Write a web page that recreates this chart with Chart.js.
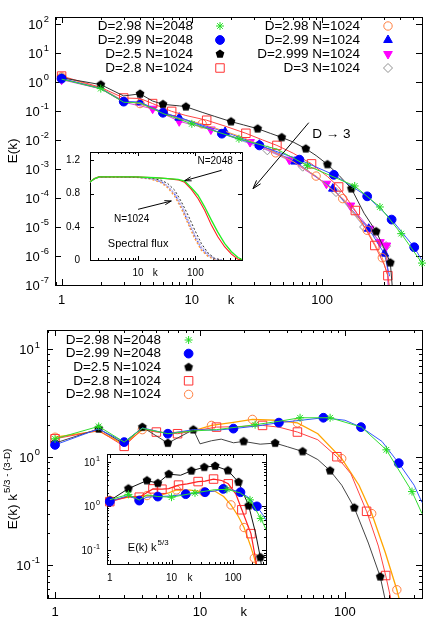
<!DOCTYPE html>
<html>
<head>
<meta charset="utf-8">
<script src="https://cdn.jsdelivr.net/npm/chart.js@4.4.1/dist/chart.umd.min.js"></script>
<style>
  html, body { margin: 0; padding: 0; background: #fff; }
  #wrap { position: relative; width: 447px; height: 626px; overflow: hidden; }
  #wrap canvas { position: absolute; left: 0; top: 0; }
</style>
</head>
<body>
<div id="wrap">
  <canvas id="topMain" width="447" height="626"></canvas>
  <canvas id="topInset" width="447" height="626"></canvas>
  <canvas id="botMain" width="447" height="626"></canvas>
  <canvas id="botInset" width="447" height="626"></canvas>
</div>
<script>
// ====== legend text / ticks ======
var topLabels = ['D=2.98 N=2048', 'D=2.99 N=2048', 'D=2.5 N=1024', 'D=2.8 N=1024',
                 'D=2.98 N=1024', 'D=2.99 N=1024', 'D=2.999 N=1024', 'D=3 N=1024'];
var botLabels = ['D=2.98 N=2048', 'D=2.99 N=2048', 'D=2.5 N=1024', 'D=2.8 N=1024', 'D=2.98 N=1024'];
var xTickMain = [1, 10, 100];
var xTickFlux = [10, 100];
var yExpTop = [2, 1, 0, -1, -2, -3, -4, -5, -6, -7];
var yExpBot = [1, 0, -1];
var yTickFlux = [0, 0.4, 0.8, 1.2];

// ====== top panel : E(k)  (k, E, k with marker) ======
var kT_g = [1, 2, 3, 4, 6, 10, 23, 45, 77, 178, 278, 405, 585];
var eT_g = [1.25, 0.59, 0.2, 0.19, 0.082, 0.036, 0.011, 0.0048, 0.0013, 2.6e-4, 4.9e-5, 5.9e-6, 5.7e-7];
var mT_g = [2, 10, 23, 77, 178, 278, 405, 585];

var kT_b = [1, 2, 3, 4, 6, 9, 17, 33, 67, 123, 222, 342, 510, 585];
var eT_b = [1.3, 0.6, 0.21, 0.2, 0.087, 0.05, 0.0165, 0.0065, 0.0021, 6.3e-4, 1.14e-4, 1.8e-5, 2e-6, 7e-7];
var mT_b = [1, 3, 6, 17, 33, 67, 123, 222, 342, 510];

var kT_k = [1, 2, 3, 4, 5, 6, 8, 9, 12, 15, 20, 25, 32, 40, 49, 60, 75, 90, 110, 135, 168, 210, 260, 300, 334, 345];
var eT_k = [1.4, 0.81, 0.33, 0.39, 0.22, 0.17, 0.15, 0.14, 0.09, 0.065, 0.043, 0.033, 0.0245, 0.017, 0.0123,
            0.0085, 0.005, 0.0029, 0.00144, 6e-4, 2.1e-4, 3e-5, 7e-6, 1.8e-6, 5.9e-7, 1e-7];
var mT_k = [1, 2, 4, 6, 9, 20, 32, 49, 75, 110, 168, 260, 334];

var kT_r = [1, 2, 3, 4, 5, 7, 9, 13, 18, 26, 35, 45, 60, 83, 110, 134, 180, 254, 300, 320, 335];
var eT_r = [1.6, 0.65, 0.28, 0.27, 0.18, 0.097, 0.07, 0.048, 0.03, 0.017, 0.01, 0.0065, 0.0035, 1.5e-3,
            5.5e-4, 2.4e-4, 3.7e-5, 2.3e-6, 5e-7, 2.1e-7, 5e-8];
var mT_r = [1, 3, 5, 7, 13, 26, 45, 83, 134, 180, 254, 320];

var kT_o = [1, 2, 3, 4, 6, 8, 12, 18, 25, 44, 60, 90, 144, 222, 290, 320];
var eT_o = [1.5, 0.62, 0.22, 0.18, 0.09, 0.055, 0.036, 0.02, 0.012, 3.6e-3, 1.8e-3, 5.7e-4, 9.5e-5, 7.7e-6, 8.7e-7, 2e-7];
var mT_o = [1, 4, 12, 44, 90, 144, 222, 290];

var kT_t = [1, 2, 3, 4, 6, 8, 12, 18, 33, 62, 121, 228, 301, 330];
var eT_t = [1.3, 0.6, 0.21, 0.2, 0.09, 0.059, 0.033, 0.019, 0.0069, 1.8e-3, 2.1e-4, 8.7e-6, 1.2e-6, 2e-7];
var mT_t = [4, 8, 18, 33, 62, 121, 228, 301];

var kT_m = [1, 2, 3, 5, 8, 14, 28, 56, 108, 165, 232, 278, 312, 328];
var eT_m = [1.2, 0.58, 0.2, 0.12, 0.044, 0.023, 8.5e-3, 2.1e-3, 3.1e-4, 5.5e-5, 8.7e-6, 3e-6, 2.3e-6, 1e-8];
var mT_m = [1, 5, 8, 14, 28, 56, 108, 165, 232, 278, 312];

var kT_d = [1, 2, 3, 4, 6, 10, 20, 38, 71, 128, 210, 310, 333];
var eT_d = [1.3, 0.58, 0.21, 0.19, 0.085, 0.04, 0.013, 4.4e-3, 1.2e-3, 1.6e-4, 1e-5, 2.2e-6, 1e-8];
var mT_d = [38, 71, 128, 210, 310];

// ====== top inset : spectral flux ======
var kF_hi = [1.45, 1.75, 2.1, 5, 9, 20, 33, 50, 65, 85, 111, 145, 190, 246, 323, 425, 553, 650];
var fF_g  = [0.94, 0.98, 1.0, 1.0, 1.0, 0.99, 0.98, 0.97, 0.95, 0.87, 0.78, 0.64, 0.48, 0.335, 0.2, 0.1, 0.03, 0.005];
var fF_r  = [0.94, 0.98, 1.0, 1.0, 1.0, 0.99, 0.98, 0.965, 0.935, 0.85, 0.74, 0.6, 0.42, 0.28, 0.16, 0.07, 0.01, 0.0];
var kF_lo = [1.45, 1.75, 2.1, 5, 10, 17, 25.5, 33, 43.6, 57, 74.5, 97.5, 127, 166, 217, 284];
var fF_b  = [0.94, 0.98, 1.0, 1.0, 0.995, 0.98, 0.94, 0.88, 0.79, 0.64, 0.46, 0.28, 0.14, 0.055, 0.01, 0.0];
var fF_o  = [0.94, 0.98, 1.0, 1.0, 0.995, 0.975, 0.93, 0.87, 0.77, 0.62, 0.44, 0.26, 0.12, 0.045, 0.008, 0.0];
var fF_d  = [0.94, 0.98, 1.0, 1.0, 0.995, 0.98, 0.945, 0.89, 0.8, 0.66, 0.48, 0.3, 0.16, 0.065, 0.015, 0.0];
var fF_k  = [0.94, 0.98, 1.0, 1.0, 0.995, 0.985, 0.96, 0.92, 0.84, 0.7, 0.54, 0.36, 0.2, 0.085, 0.02, 0.0];

// ====== bottom panel : E(k) k^(5/3-(3-D)) ======
var kB_g = [1, 2, 3, 4, 6, 9, 13, 18, 24, 35, 49, 79, 130, 193, 290, 340];
var eB_g = [1.48, 1.93, 1.38, 1.85, 1.65, 1.75, 1.8, 1.9, 2.0, 2.15, 2.32, 2.32, 1.9, 1.17, 0.48, 0.3];
var mB_g = [1, 2, 24, 49, 79, 193, 290];

var kB_b = [1, 2, 3, 4, 6, 9, 13, 17, 25, 35, 50, 71, 100, 129, 180, 235, 300, 340];
var eB_b = [1.3, 1.83, 1.38, 1.87, 1.65, 1.8, 1.78, 1.84, 1.95, 2.09, 2.2, 2.32, 2.2, 1.9, 1.4, 0.88, 0.55, 0.38];
var mB_b = [1, 3, 6, 17, 35, 71, 129, 235];

var kB_k = [1, 2, 3, 4, 6, 9, 10, 12, 14, 17, 20, 26, 33, 40, 51, 65, 79, 95, 116, 145, 175, 195];
var eB_k = [1.35, 1.83, 1.33, 1.9, 1.35, 1.8, 1.33, 1.42, 1.47, 1.36, 1.4, 1.32, 1.35, 1.25, 1.13, 0.95,
            0.75, 0.55, 0.34, 0.16, 0.078, 0.04];
var mB_k = [1, 2, 4, 6, 9, 20, 33, 51, 79, 116, 175];

var kB_r = [1, 2, 3, 4, 5, 7, 9, 13, 18, 27, 35, 47, 65, 88, 110, 141, 170, 191, 210];
var eB_r = [1.48, 1.77, 1.26, 1.83, 1.71, 1.65, 1.75, 1.9, 1.92, 1.97, 1.9, 1.71, 1.45, 1.01, 0.7, 0.315, 0.15, 0.08, 0.045];
var mB_r = [1, 3, 5, 7, 13, 27, 47, 88, 141, 191];

var kB_o = [1, 2, 3, 4, 6, 9, 12, 17, 23, 33, 47, 65, 95, 125, 153, 190, 228, 240];
var eB_o = [1.53, 1.75, 1.31, 1.8, 1.67, 1.75, 1.97, 2.1, 2.24, 2.2, 2.08, 1.65, 0.97, 0.55, 0.3, 0.13, 0.059, 0.045];
var mB_o = [1, 4, 12, 23, 47, 95, 153, 228];

// ====== bottom inset : E(k) k^(5/3) ======
var kI_k = [1, 2, 4, 6, 9, 14, 21, 34, 51, 82, 122, 178, 230, 275, 290];
var eI_k = [1.34, 2.5, 3.8, 3.3, 5.3, 5.0, 6.3, 7.6, 8.1, 6.4, 3.5, 1.03, 0.25, 0.07, 0.04];
var mI_k = [1, 2, 4, 6, 9, 21, 34, 51, 82, 122, 178, 275];

var kI_r = [1, 2, 3, 5, 7, 9, 13, 18, 27, 35, 48, 65, 83, 110, 138, 194, 228, 240];
var eI_r = [1.27, 1.65, 1.6, 2.46, 2.42, 2.5, 3.0, 3.2, 3.6, 3.7, 4.1, 3.8, 3.2, 1.9, 0.83, 0.24, 0.07, 0.045];
var mI_r = [1, 3, 5, 7, 13, 27, 48, 83, 138, 194];

var kI_o = [1, 2, 4, 6, 9, 12, 20, 33, 50, 70, 92, 120, 150, 190, 220, 235];
var eI_o = [1.35, 1.6, 1.74, 1.7, 2.0, 2.33, 2.3, 2.1, 2.2, 1.65, 1.07, 0.6, 0.33, 0.13, 0.067, 0.045];
var mI_o = [1, 4, 12, 33, 92, 150, 220];

var kI_b = [1, 2, 3, 4, 6, 10, 17, 25, 35, 50, 69, 100, 131, 180, 242, 300, 340];
var eI_b = [1.27, 1.75, 1.34, 1.6, 1.65, 1.7, 1.87, 1.95, 2.07, 2.2, 2.46, 2.3, 2.07, 1.55, 0.99, 0.65, 0.49];
var mI_b = [1, 3, 6, 17, 35, 69, 131, 242];

var kI_g = [1, 2, 3, 4, 6, 10, 24, 49, 79, 130, 187, 280, 340];
var eI_g = [1.4, 1.85, 1.38, 1.8, 1.65, 1.6, 2.0, 2.35, 2.4, 2.0, 1.39, 0.53, 0.3];
var mI_g = [2, 10, 24, 79, 187, 280];

// ====== annotations (data coordinates) ======
var arrowD = [[79, 0.0395], [29.5, 2.1e-4]];
var labelD = [84, 0.0156];
var arrow2048 = [[287, 1.08], [65, 0.955]];
var label2048 = [221, 1.19];
var arrow1024 = [[10, 0.61], [38, 0.71]];
var label1024 = [7.7, 0.49];
var labelFlux = [2.97, 0.195];
var labelComp = [1.96, 0.122];

var FONT = '"Liberation Sans", Arial, Helvetica, sans-serif';

// ====== helpers ======
function pentagon(r, color) {
    var s = Math.ceil(2 * r + 2);
    var c = document.createElement('canvas');
    c.width = s; c.height = s;
    var g = c.getContext('2d');
    g.fillStyle = color;
    g.beginPath();
    for (var i = 0; i < 5; i++) {
        var a = -Math.PI / 2 + i * 2 * Math.PI / 5;
        var px = s / 2 + r * Math.cos(a), py = s / 2 + r * Math.sin(a);
        if (i) g.lineTo(px, py); else g.moveTo(px, py);
    }
    g.closePath();
    g.fill();
    return c;
}
var PENTA = pentagon(4.6, '#000');

var ST = {
    g: { color: '#22dd22', line: '#33dd33', shape: 'star', r: 4 },
    b: { color: '#0000ff', fill: '#0000ff', line: '#3355ff', shape: 'circle', r: 4.4 },
    k: { color: '#000', fill: '#000', line: '#444', shape: PENTA, r: 4.6 },
    r: { color: '#ff3333', line: '#ff4444', shape: 'rect', r: 6 },
    o: { color: '#ff7f40', line: '#ffa020', shape: 'circle', r: 4.2 },
    t: { color: '#0000ff', fill: '#0000ff', line: '#3355ff', shape: 'triangle', r: 5 },
    m: { color: '#ff00ff', fill: '#ff00ff', line: '#dd44dd', shape: 'triangle', rot: 180, r: 5 },
    d: { color: '#909090', line: '#a8a0d8', shape: 'rectRot', r: 4.5 }
};

function series(k, e, marks, st, extra) {
    extra = extra || {};
    return {
        data: k.map(function (x, i) { return { x: x, y: e[i] }; }),
        borderColor: extra.line || st.line,
        borderWidth: extra.lw || 1,
        borderDash: extra.dash || [],
        pointStyle: st.shape,
        pointRotation: st.rot || 0,
        pointBackgroundColor: st.fill || 'rgba(0,0,0,0)',
        pointBorderColor: st.color,
        pointBorderWidth: 1,
        pointRadius: function (c) {
            return marks && c.raw && marks.indexOf(c.raw.x) >= 0 ? st.r : 0;
        },
        fill: false,
        tension: 0,
        clip: { left: 6, top: 0, right: 6, bottom: 0 },
        _st: st
    };
}

function txt(ctx, s, x, y, fs, align) {
    ctx.font = fs + 'px ' + FONT;
    ctx.textAlign = align || 'left';
    ctx.textBaseline = 'middle';
    ctx.fillStyle = '#000';
    ctx.fillText(s, x, y);
}

// base text with superscript, aligned as a whole
function supText(ctx, base, sup, x, y, fs, align) {
    var fe = fs * 0.72;
    ctx.font = fs + 'px ' + FONT;
    var wb = ctx.measureText(base).width;
    ctx.font = fe + 'px ' + FONT;
    var we = ctx.measureText(sup).width;
    var w = wb + we + 1;
    var x0 = align === 'right' ? x - w : (align === 'center' ? x - w / 2 : x);
    ctx.fillStyle = '#000';
    ctx.textAlign = 'left';
    ctx.textBaseline = 'middle';
    ctx.font = fs + 'px ' + FONT;
    ctx.fillText(base, x0, y + fs * 0.12);
    ctx.font = fe + 'px ' + FONT;
    ctx.fillText(sup, x0 + wb + 1, y - fs * 0.33);
}

function arrow(ctx, x1, y1, x2, y2, head) {
    ctx.save();
    ctx.strokeStyle = '#000';
    ctx.lineWidth = 1;
    ctx.beginPath();
    ctx.moveTo(x1, y1);
    ctx.lineTo(x2, y2);
    var ang = Math.atan2(y2 - y1, x2 - x1);
    [-1, 1].forEach(function (s) {
        var a2 = ang + Math.PI + s * 0.3;
        ctx.moveTo(x2, y2);
        ctx.lineTo(x2 + head * Math.cos(a2), y2 + head * Math.sin(a2));
    });
    ctx.stroke();
    ctx.restore();
}

function tickList(min, max, isLog, majors) {
    var out = [];
    if (!isLog) {
        majors.forEach(function (v) { out.push({ v: v, major: true }); });
        return out;
    }
    for (var d = Math.floor(Math.log10(min)); d <= Math.ceil(Math.log10(max)); d++) {
        for (var m = 1; m <= 9; m++) {
            var v = m * Math.pow(10, d);
            if (v >= min * 0.9999 && v <= max * 1.0001) out.push({ v: v, major: m === 1 });
        }
    }
    return out;
}

function framePlugin(cfg) {
    return {
        id: 'gpFrame',
        beforeDraw: function (chart) {
            if (!cfg.white) return;
            var a = chart.chartArea, ctx = chart.ctx;
            ctx.save();
            ctx.fillStyle = '#fff';
            ctx.fillRect(a.left, a.top, a.right - a.left, a.bottom - a.top);
            ctx.restore();
        },
        beforeDatasetsDraw: function (chart) {
            var ctx = chart.ctx, a = chart.chartArea, xs = chart.scales.x, ys = chart.scales.y;
            ctx.save();
            ctx.strokeStyle = '#000';
            ctx.lineWidth = 1;
            ctx.beginPath();
            tickList(cfg.x[0], cfg.x[1], true).forEach(function (t) {
                var L = t.major ? cfg.tick : cfg.tick / 2;
                var px = Math.round(xs.getPixelForValue(t.v)) + 0.5;
                ctx.moveTo(px, a.bottom); ctx.lineTo(px, a.bottom - L);
                ctx.moveTo(px, a.top); ctx.lineTo(px, a.top + L);
            });
            tickList(cfg.y[0], cfg.y[1], cfg.yLog, cfg.yMajors).forEach(function (t) {
                if (!t.major && !cfg.yMinor) return;
                var L = t.major ? cfg.tick : cfg.tick / 2;
                var py = Math.round(ys.getPixelForValue(t.v)) + 0.5;
                ctx.moveTo(a.left, py); ctx.lineTo(a.left + L, py);
                ctx.moveTo(a.right, py); ctx.lineTo(a.right - L, py);
            });
            ctx.stroke();
            ctx.strokeRect(Math.round(a.left) + 0.5, Math.round(a.top) + 0.5,
                           Math.round(a.right - a.left), Math.round(a.bottom - a.top));
            ctx.restore();
        },
        afterDraw: function (chart) {
            var ctx = chart.ctx, a = chart.chartArea, xs = chart.scales.x, ys = chart.scales.y;
            ctx.save();
            var ly = a.bottom + cfg.xDy;
            cfg.xLabels.forEach(function (v) {
                txt(ctx, String(v), xs.getPixelForValue(v), ly, cfg.fs, 'center');
            });
            txt(ctx, 'k', xs.getPixelForValue(cfg.kAt), ly, cfg.fs, 'center');
            if (cfg.yExp) {
                cfg.yExp.forEach(function (p) {
                    supText(ctx, '10', String(p), a.left - cfg.yDx, ys.getPixelForValue(Math.pow(10, p)), cfg.fs, 'right');
                });
            } else {
                cfg.yMajors.forEach(function (v) {
                    txt(ctx, String(v), a.left - cfg.yDx, ys.getPixelForValue(v), cfg.fs, 'right');
                });
            }
            if (cfg.yTitle) {
                ctx.save();
                ctx.translate(a.left + cfg.yTitle.dx, (a.top + a.bottom) / 2 + cfg.yTitle.dy);
                ctx.rotate(-Math.PI / 2);
                if (cfg.yTitle.sup) supText(ctx, cfg.yTitle.text, cfg.yTitle.sup, 0, 0, cfg.yTitle.fs, 'center');
                else txt(ctx, cfg.yTitle.text, 0, 0, cfg.yTitle.fs, 'center');
                ctx.restore();
            }
            if (cfg.legend) drawLegend(chart, cfg.legend);
            if (cfg.extra) cfg.extra(chart, ctx, xs, ys);
            ctx.restore();
        }
    };
}

function drawLegend(chart, lg) {
    var ctx = chart.ctx, a = chart.chartArea;
    var dsets = chart.data.datasets;
    lg.labels.forEach(function (label, i) {
        var col = Math.floor(i / lg.perCol), row = i % lg.perCol;
        var y = a.top + lg.top + row * lg.dy;
        var tx = a.left + lg.textRight[col], mx = a.left + lg.markX[col];
        txt(ctx, label, tx, y, lg.fs, 'right');
        var st = dsets[i]._st;
        ctx.save();
        ctx.fillStyle = st.fill || 'rgba(0,0,0,0)';
        ctx.strokeStyle = st.color;
        ctx.lineWidth = 1;
        if (Chart.helpers && Chart.helpers.drawPoint) {
            Chart.helpers.drawPoint(ctx, { pointStyle: st.shape, radius: st.r, rotation: st.rot || 0, borderWidth: 1 }, mx, y);
        }
        ctx.restore();
    });
}

function makeChart(id, datasets, cfg) {
    return new Chart(document.getElementById(id), {
        type: 'line',
        data: { datasets: datasets },
        options: {
            responsive: false,
            animation: false,
            devicePixelRatio: 1,
            events: [],
            layout: { padding: cfg.pad },
            plugins: { legend: { display: false }, tooltip: { enabled: false } },
            scales: {
                x: { type: 'logarithmic', min: cfg.x[0], max: cfg.x[1], bounds: 'data', display: false },
                y: { type: cfg.yLog ? 'logarithmic' : 'linear', min: cfg.y[0], max: cfg.y[1], bounds: 'data', display: false }
            }
        },
        plugins: [framePlugin(cfg)]
    });
}

// ====== top main ======
makeChart('topMain', [
    series(kT_g, eT_g, mT_g, ST.g),
    series(kT_b, eT_b, mT_b, ST.b),
    series(kT_k, eT_k, mT_k, ST.k, { line: '#333' }),
    series(kT_r, eT_r, mT_r, ST.r),
    series(kT_o, eT_o, mT_o, ST.o, { line: '#ff9a50' }),
    series(kT_t, eT_t, mT_t, ST.t),
    series(kT_m, eT_m, mT_m, ST.m),
    series(kT_d, eT_d, mT_d, ST.d)
], {
    pad: { left: 55, top: 17, right: 25, bottom: 341 },
    x: [0.89, 585], y: [1e-7, 174], yLog: true, yMinor: false,
    tick: 6, fs: 13, xDy: 15, yDx: 6, kAt: 20,
    xLabels: xTickMain, yExp: yExpTop,
    yTitle: { text: 'E(k)', dx: -42, dy: 0, fs: 13.5 },
    legend: { labels: topLabels, perCol: 4, top: 9, dy: 14, fs: 13.5,
              textRight: [138, 305], markX: [165, 333] },
    extra: function (chart, ctx, xs, ys) {
        arrow(ctx, xs.getPixelForValue(arrowD[0][0]), ys.getPixelForValue(arrowD[0][1]),
              xs.getPixelForValue(arrowD[1][0]), ys.getPixelForValue(arrowD[1][1]), 9);
        txt(ctx, 'D \u2192 3', xs.getPixelForValue(labelD[0]), ys.getPixelForValue(labelD[1]), 13.5, 'left');
    }
});

// ====== top inset (spectral flux) ======
makeChart('topInset', [
    series(kF_hi, fF_g, null, ST.g, { line: '#22ee22', lw: 1.3 }),
    series(kF_hi, fF_r, null, ST.r, { line: '#ff2020', lw: 1.1 }),
    series(kF_lo, fF_k, null, ST.k, { line: '#333', dash: [2, 2] }),
    series(kF_lo, fF_d, null, ST.d, { line: '#b8b0e8', lw: 1.5, dash: [2, 1] }),
    series(kF_lo, fF_o, null, ST.o, { line: '#ff9a40', lw: 1.6, dash: [2, 2] }),
    series(kF_lo, fF_b, null, ST.b, { line: '#2040ff', lw: 1.2, dash: [1.5, 2] })
], {
    white: true,
    pad: { left: 90, top: 152, right: 205, bottom: 366 },
    x: [1.45, 650], y: [0, 1.3], yLog: false, yMajors: yTickFlux,
    tick: 4, fs: 10, xDy: 13, yDx: 10, kAt: 20,
    xLabels: xTickFlux,
    extra: function (chart, ctx, xs, ys) {
        arrow(ctx, xs.getPixelForValue(arrow2048[0][0]), ys.getPixelForValue(arrow2048[0][1]),
              xs.getPixelForValue(arrow2048[1][0]), ys.getPixelForValue(arrow2048[1][1]), 7);
        arrow(ctx, xs.getPixelForValue(arrow1024[0][0]), ys.getPixelForValue(arrow1024[0][1]),
              xs.getPixelForValue(arrow1024[1][0]), ys.getPixelForValue(arrow1024[1][1]), 7);
        txt(ctx, 'N=2048', xs.getPixelForValue(label2048[0]), ys.getPixelForValue(label2048[1]), 10, 'center');
        txt(ctx, 'N=1024', xs.getPixelForValue(label1024[0]), ys.getPixelForValue(label1024[1]), 10, 'center');
        txt(ctx, 'Spectral flux', xs.getPixelForValue(labelFlux[0]), ys.getPixelForValue(labelFlux[1]), 11, 'left');
    }
});

// ====== bottom main (compensated) ======
makeChart('botMain', [
    series(kB_g, eB_g, mB_g, ST.g),
    series(kB_b, eB_b, mB_b, ST.b),
    series(kB_k, eB_k, mB_k, ST.k),
    series(kB_r, eB_r, mB_r, ST.r),
    series(kB_o, eB_o, mB_o, ST.o, { line: '#ffa500', lw: 1.3 })
], {
    pad: { left: 47, top: 330, right: 25, bottom: 28 },
    x: [0.88, 340], y: [0.0495, 15.1], yLog: true, yMinor: true,
    tick: 6, fs: 13, xDy: 14, yDx: 7, kAt: 20,
    xLabels: xTickMain, yExp: yExpBot,
    yTitle: { text: 'E(k) k', sup: '5/3 - (3-D)', dx: -35, dy: 25, fs: 13.5 },
    legend: { labels: botLabels, perCol: 5, top: 10, dy: 13.6, fs: 13.5,
              textRight: [114], markX: [141.6] }
});

// ====== bottom inset (E k^5/3) ======
makeChart('botInset', [
    series(kI_g, eI_g, mI_g, ST.g),
    series(kI_b, eI_b, mI_b, ST.b),
    series(kI_k, eI_k, mI_k, ST.k, { line: '#111' }),
    series(kI_r, eI_r, mI_r, ST.r, { line: '#ff2020', lw: 1.2 }),
    series(kI_o, eI_o, mI_o, ST.o, { line: '#ffa500', lw: 1.2 })
], {
    white: true,
    pad: { left: 107, top: 454, right: 181, bottom: 62 },
    x: [0.9, 340], y: [0.0495, 15.1], yLog: true, yMinor: true,
    tick: 4, fs: 10, xDy: 14, yDx: 7, kAt: 20,
    xLabels: xTickMain, yExp: yExpBot,
    extra: function (chart, ctx, xs, ys) {
        supText(ctx, 'E(k) k', '5/3', xs.getPixelForValue(labelComp[0]), ys.getPixelForValue(labelComp[1]), 11, 'left');
    }
});
</script>
</body>
</html>
